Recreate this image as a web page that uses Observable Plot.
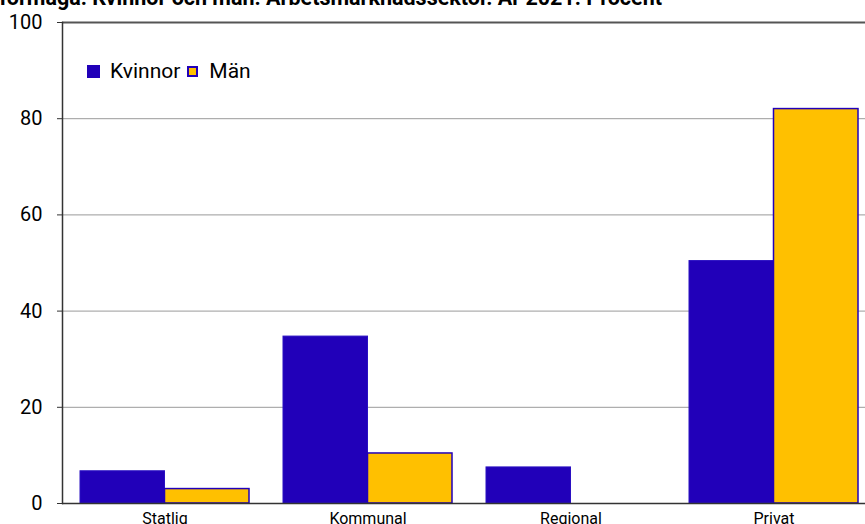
<!DOCTYPE html>
<html>
<head>
<meta charset="utf-8">
<script src="https://cdn.jsdelivr.net/npm/d3@7"></script>
<script src="https://cdn.jsdelivr.net/npm/@observablehq/plot@0.6"></script>
<style>
html, body { margin: 0; padding: 0; background: #fff; overflow: hidden; width: 865px; height: 524px; }
#wrap { position: relative; width: 865px; height: 524px; overflow: hidden; font-family: Roboto, sans-serif; color: #000; }
#title { position: absolute; right: 203px; top: -13px; font: bold 21.5px Roboto, sans-serif; line-height: 21.5px; white-space: nowrap; z-index: 2; }
#chart { position: absolute; left: 0; top: 0; }
#legend { position: absolute; left: 87px; top: 59px; display: flex; align-items: center; font: 21px Roboto, sans-serif; line-height: 24px; z-index: 2; }
#legend .sw { display: inline-block; width: 13px; height: 13px; box-sizing: border-box; margin-right: 10px; }
#legend .sw.small { width: 11px; height: 11px; margin: 1px 11px 1px 1px; }
#legend .item { display: flex; align-items: center; margin-right: 6px; }
</style>
</head>
<body>
<div id="wrap">
  <div id="title"></div>
  <div id="chart"></div>
  <div id="legend"></div>
</div>
<script>
const titleText = "förmåga. Kvinnor och män. Arbetsmarknadssektor. År 2021. Procent";
const categories = ["Statlig", "Kommunal", "Regional", "Privat"];
const seriesNames = ["Kvinnor", "Män"];
const kvinnor = [6.7, 34.7, 7.5, 50.4];
const man = [3.0, 10.4, null, 82.0];
const yTicks = [0, 20, 40, 60, 80, 100];

const colKvinnor = "#2100b9";
const colMan = "#ffc000";

document.getElementById("title").textContent = titleText;

const legend = document.getElementById("legend");
[[seriesNames[0], colKvinnor, colKvinnor], [seriesNames[1], colMan, colKvinnor]].forEach(([name, fill, stroke], i) => {
  const item = document.createElement("span");
  item.className = "item";
  const sw = document.createElement("span");
  sw.className = i === 1 ? "sw small" : "sw";
  sw.style.background = fill;
  if (i === 1) sw.style.border = "2px solid " + stroke;
  const t = document.createElement("span");
  t.textContent = name;
  item.appendChild(sw);
  item.appendChild(t);
  legend.appendChild(item);
});

const rows = categories.map((c, i) => ({sektor: c, kvinnor: kvinnor[i], man: man[i]}));

const common = {
  width: 878,
  height: 524,
  marginTop: 22,
  marginBottom: 21,
  marginLeft: 62,
  marginRight: 2,
  style: {fontFamily: "Roboto, sans-serif", color: "#000", background: "transparent", maxWidth: "none", overflow: "visible"},
  x: {domain: categories, paddingInner: 1 / 6, paddingOuter: 1 / 12},
  y: {domain: [0, 100]}
};

const probe = Plot.plot({...common, marks: [Plot.barY(rows, {x: "sektor", y: "kvinnor"})]});
const bw = probe.scale("x").bandwidth;

const chart = Plot.plot({
  ...common,
  marks: [
    Plot.ruleY(yTicks.filter(d => d > 0 && d < 100), {stroke: "#9a9a9a", strokeWidth: 1}),
    Plot.ruleY([100], {stroke: "#555", strokeWidth: 1.8}),
    Plot.barY(rows, {x: "sektor", y: "kvinnor", fill: colKvinnor, stroke: "#2a10c2", strokeWidth: 1, insetRight: bw / 2}),
    Plot.barY(rows.filter(d => d.man != null), {x: "sektor", y: "man", fill: colMan, stroke: colKvinnor, strokeWidth: 1.5, insetLeft: bw / 2}),
    Plot.ruleY([0], {stroke: "#333", strokeWidth: 1.5}),
    Plot.frame({anchor: "left", stroke: "#333", strokeWidth: 1.5}),
    Plot.axisY({ticks: yTicks, tickSize: 5, tickPadding: 15, fontSize: 20, label: null, tickFormat: d => String(d), stroke: "#333"}),
    Plot.axisX({tickSize: 0, tickPadding: 9, fontSize: 16, label: null})
  ]
});
document.getElementById("chart").appendChild(chart);
</script>
</body>
</html>
